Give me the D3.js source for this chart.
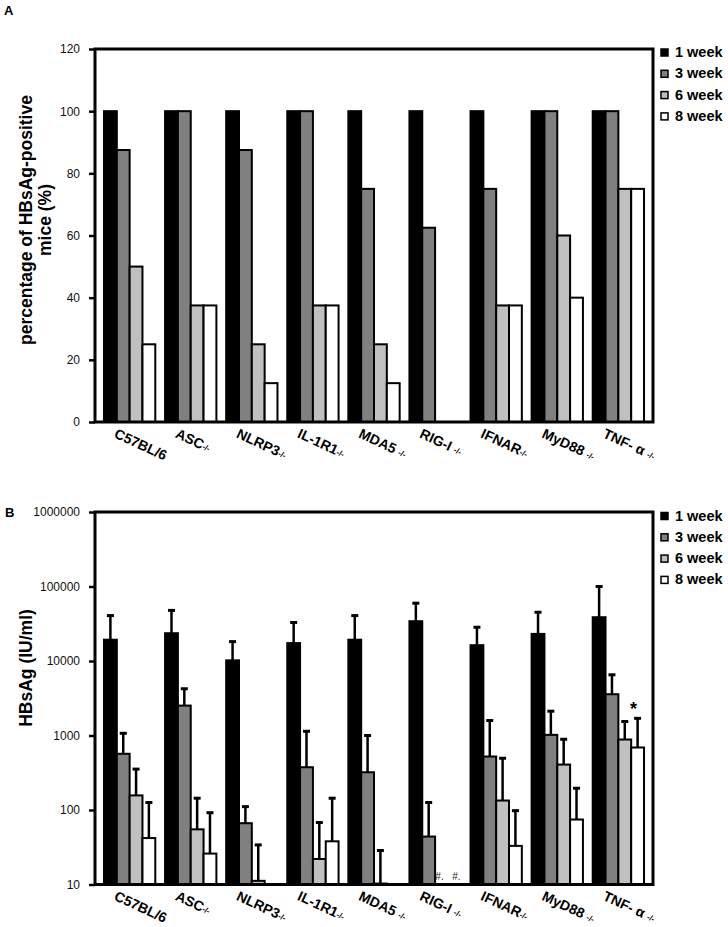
<!DOCTYPE html>
<html><head><meta charset="utf-8">
<script src="https://cdn.jsdelivr.net/npm/d3@7"></script>
<style>body{margin:0;background:#fff} svg{display:block}</style>
</head><body><svg id="c" width="728" height="927"></svg>
<script>
// ---- data ----
const categories = ["C57BL/6", "ASC", "NLRP3", "IL-1R1", "MDA5 ", "RIG-I ", "IFNAR", "MyD88 ", "TNF- α "];
const knockoutMark = ["", "-/-", "-/-", "-/-", "-/-", "-/-", "-/-", "-/-", "-/-"];
const seriesNames = ["1 week", "3 week", "6 week", "8 week"];
const seriesColors = ["#000000", "#808080", "#c0c0c0", "#ffffff"];

// Panel A: percentage of HBsAg-positive mice (%)
const pctWeek1 = [100, 100, 100, 100, 100, 100, 100, 100, 100];
const pctWeek3 = [87.5, 100, 87.5, 100, 75, 62.5, 75, 100, 100];
const pctWeek6 = [50, 37.5, 25, 37.5, 25, 0, 37.5, 60, 75];
const pctWeek8 = [25, 37.5, 12.5, 37.5, 12.5, 0, 37.5, 40, 75];
const pctTicks = [0, 20, 40, 60, 80, 100, 120];

// Panel B: HBsAg (IU/ml), mean and upper error end (null = undetectable)
const hbsWeek1 = [19300, 23600, 10200, 17400, 19300, 34200, 16300, 23100, 38700];
const hbsWeek3 = [568, 2520, 66.5, 375, 321, 44, 522, 1020, 3580];
const hbsWeek6 = [157, 55, 11.2, 22, 10.3, null, 134, 407, 883];
const hbsWeek8 = [42, 26, null, 38, null, null, 33, 74.5, 690];
const hbsUpperWeek1 = [40700, 47800, 18200, 32900, 40700, 59700, 28400, 45100, 100000];
const hbsUpperWeek3 = [1070, 4240, 111, 1140, 1000, 126, 1590, 2120, 6530];
const hbsUpperWeek6 = [354, 144, 34, 68, 28.6, null, 495, 890, 1540];
const hbsUpperWeek8 = [126, 92, null, 144, null, null, 98, 196, 1700];
const hbsTicks = [10, 100, 1000, 10000, 100000, 1000000];
const hashMarks = [{cat: "RIG-I ", s: 2}, {cat: "RIG-I ", s: 3}];
const starMark = {cat: "TNF- α ", s: 3};

// ---- drawing ----
const svg = d3.select("#c");
const FONT = "'Liberation Sans', Arial, sans-serif";
const X0 = 95, X1 = 653;

const x = d3.scaleBand().domain(categories).range([X0, X1]).paddingInner(0.16).paddingOuter(0.147);
const xs = d3.scaleBand().domain(d3.range(4)).range([0, x.bandwidth()]);

function panel(cfg) {
  const g = svg.append("g");
  const y = cfg.y;
  const yBase = y.range()[0];
  const series = cfg.series;
  // bars
  series.forEach((vals, s) => {
    g.append("g").selectAll("rect")
      .data(categories.map((c, i) => ({c, v: vals[i]})).filter(d => d.v != null && d.v > cfg.min))
      .join("rect")
      .attr("x", d => x(d.c) + xs(s))
      .attr("width", xs.bandwidth())
      .attr("y", d => y(d.v))
      .attr("height", d => Math.max(0, yBase - y(d.v)))
      .attr("fill", seriesColors[s])
      .attr("stroke", "#000")
      .attr("stroke-width", 2);
  });
  // error bars
  if (cfg.upper) {
    cfg.upper.forEach((ups, s) => {
      const data = categories.map((c, i) => ({c, v: series[s][i], u: ups[i]})).filter(d => d.u != null);
      const eg = g.append("g");
      eg.selectAll("line.v").data(data).join("line")
        .attr("x1", d => x(d.c) + xs(s) + xs.bandwidth() / 2)
        .attr("x2", d => x(d.c) + xs(s) + xs.bandwidth() / 2)
        .attr("y1", d => y(d.v)).attr("y2", d => y(d.u))
        .attr("stroke", "#000").attr("stroke-width", 2.5);
      eg.selectAll("line.c").data(data).join("line")
        .attr("x1", d => x(d.c) + xs(s) + xs.bandwidth() / 2 - 3.5)
        .attr("x2", d => x(d.c) + xs(s) + xs.bandwidth() / 2 + 3.5)
        .attr("y1", d => y(d.u)).attr("y2", d => y(d.u))
        .attr("stroke", "#000").attr("stroke-width", 3);
    });
  }
  // frame
  g.append("rect").attr("x", X0).attr("y", y.range()[1]).attr("width", X1 - X0)
    .attr("height", yBase - y.range()[1]).attr("fill", "none").attr("stroke", "#000").attr("stroke-width", 3);
  // y axis
  const ax = g.append("g").attr("transform", `translate(${X0},0)`)
    .call(d3.axisLeft(y).tickValues(cfg.ticks).tickSize(6).tickPadding(9).tickFormat(cfg.fmt));
  ax.select(".domain").remove();
  ax.selectAll(".tick line").attr("stroke", "#000").attr("stroke-width", 2.5);
  ax.selectAll(".tick text").attr("font-family", FONT).attr("font-size", 12).attr("fill", "#111");
  // x labels
  const lab = g.append("g").selectAll("text").data(categories).join("text")
    .attr("transform", d => `translate(${x(d) + 14},${yBase + 5}) rotate(25)`)
    .attr("y", 11)
    .attr("font-family", FONT).attr("font-size", 14).attr("font-weight", "bold").attr("fill", "#000");
  lab.append("tspan").text(d => d);
  lab.append("tspan").attr("font-size", 8).attr("dy", -1).text((d, i) => knockoutMark[i]);
  // y title
  const tt = g.append("text")
    .attr("transform", `translate(0,${cfg.titleY}) rotate(-90)`)
    .attr("text-anchor", "middle").attr("font-family", FONT).attr("font-size", 17.5).attr("font-weight", "bold");
  cfg.title.forEach((t, i) => tt.append("tspan").attr("x", 0).attr("y", 32 + i * 19).text(t));
  // legend
  const lg = g.append("g").selectAll("g").data(seriesNames).join("g")
    .attr("transform", (d, i) => `translate(661,${cfg.legendY + i * 21.3})`);
  lg.append("rect").attr("x", 0).attr("y", -8).attr("width", 7).attr("height", 7)
    .attr("fill", (d, i) => seriesColors[i]).attr("stroke", "#000").attr("stroke-width", 1.5);
  lg.append("text").attr("x", 14).attr("y", 0).text(d => d)
    .attr("font-family", FONT).attr("font-size", 14.5).attr("font-weight", "bold");
  // panel letter
  g.append("text").attr("x", cfg.letterX).attr("y", cfg.letterY).text(cfg.letter)
    .attr("font-family", FONT).attr("font-size", 13).attr("font-weight", "bold");
  return g;
}

const yA = d3.scaleLinear().domain([0, 120]).range([422, 49]);
panel({
  y: yA, min: 0, series: [pctWeek1, pctWeek3, pctWeek6, pctWeek8], upper: null,
  ticks: pctTicks, fmt: d3.format("d"),
  title: ["percentage of HBsAg-positive", "mice (%)"], titleY: 220,
  legendY: 57, letter: "A", letterX: 4, letterY: 15
});

const yB = d3.scaleLog().domain([10, 1000000]).range([884.5, 512]);
const gB = panel({
  y: yB, min: 0, series: [hbsWeek1, hbsWeek3, hbsWeek6, hbsWeek8],
  upper: [hbsUpperWeek1, hbsUpperWeek3, hbsUpperWeek6, hbsUpperWeek8],
  ticks: hbsTicks, fmt: d3.format("d"),
  title: ["HBsAg (IU/ml)"], titleY: 668,
  legendY: 520.5, letter: "B", letterX: 5, letterY: 517
});

// annotations
gB.selectAll("text.hash").data(hashMarks).join("text")
  .attr("x", (d, i) => x(d.cat) + xs(d.s) + xs.bandwidth() / 2 + (i === 0 ? -2 : 2))
  .attr("y", yB(10) - 5)
  .attr("text-anchor", "middle").attr("font-family", FONT).attr("font-size", 10).attr("fill", "#2a2218")
  .text("#.");
gB.append("text")
  .attr("x", x(starMark.cat) + xs(starMark.s) + xs.bandwidth() / 2 - 4)
  .attr("y", yB(hbsUpperWeek8[categories.indexOf(starMark.cat)]) - 3)
  .attr("text-anchor", "middle").attr("font-family", FONT).attr("font-size", 18).attr("font-weight", "bold")
  .text("*");
</script></body></html>
